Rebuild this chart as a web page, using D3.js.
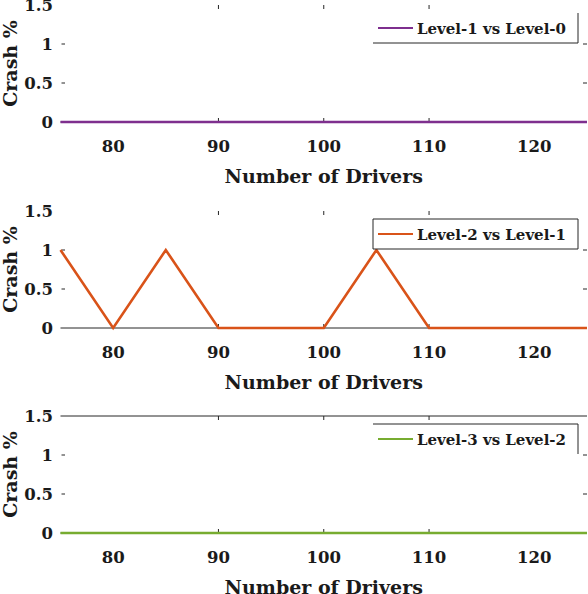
<!DOCTYPE html>
<html>
<head>
<meta charset="utf-8">
<script src="https://cdn.jsdelivr.net/npm/d3@7"></script>
<style>
  html, body { margin: 0; padding: 0; background: #fff; }
  svg { display: block; }
  text { font-family: 'DejaVu Serif', serif; font-weight: bold; fill: #1a1a1a; }
</style>
</head>
<body>
<div id="chart"></div>
<script>
// data
const drivers = [75, 80, 85, 90, 95, 100, 105, 110, 115, 120, 125]
const crashL1 = [0, 0, 0, 0, 0, 0, 0, 0, 0, 0, 0]
const crashL2 = [1, 0, 1, 0, 0, 0, 1, 0, 0, 0, 0]
const crashL3 = [0, 0, 0, 0, 0, 0, 0, 0, 0, 0, 0]
const seriesNames = ['Level-1 vs Level-0', 'Level-2 vs Level-1', 'Level-3 vs Level-2']
const seriesColors = ['#7E2F8E', '#D95319', '#77AC30']
const xTicks = [80, 90, 100, 110, 120]
const yTicks = [0, 0.5, 1, 1.5]
const xDomain = [75, 125]
const yDomain = [0, 1.5]

const width = 588,
  height = 594
const left = 60.5,
  right = 587,
  plotH = 117
const tops = [5, 211, 416]
// which frame pieces the original export left visible
const frames = [
  { topLine: false, legend: ['bottom', 'right'] },
  { topLine: false, legend: ['top', 'bottom', 'left', 'right'] },
  { topLine: true, legend: ['top', 'right'] }
]
const allSeries = [crashL1, crashL2, crashL3]

const svg = d3
  .select('#chart')
  .append('svg')
  .attr('width', width)
  .attr('height', height)

const x = d3.scaleLinear().domain(xDomain).range([left, right])

allSeries.forEach(function (values, i) {
  const top = tops[i]
  const y = d3.scaleLinear().domain(yDomain).range([top + plotH, top])
  const g = svg.append('g')
  const frame = frames[i]

  // bottom axis line (and top one where it shows)
  g.append('line')
    .attr('x1', left)
    .attr('x2', right)
    .attr('y1', y(0))
    .attr('y2', y(0))
    .attr('stroke', '#262626')
    .attr('stroke-width', 1)
  if (frame.topLine) {
    g.append('line')
      .attr('x1', left)
      .attr('x2', right)
      .attr('y1', y(1.5))
      .attr('y2', y(1.5))
      .attr('stroke', '#262626')
      .attr('stroke-width', 1)
  }

  // inward tick marks (only the inner ones survived in the original)
  const xMarks = xTicks.filter((d) => d > 85 && d < 115)
  const yMarks = yTicks.filter((d) => d > 0 && d < 1.5)
  g.selectAll('.tb')
    .data(xMarks)
    .join('line')
    .attr('x1', (d) => x(d))
    .attr('x2', (d) => x(d))
    .attr('y1', y(0))
    .attr('y2', y(0) - 4)
    .attr('stroke', '#262626')
  g.selectAll('.tt')
    .data(xMarks)
    .join('line')
    .attr('x1', (d) => x(d))
    .attr('x2', (d) => x(d))
    .attr('y1', y(1.5))
    .attr('y2', y(1.5) + 4)
    .attr('stroke', '#262626')
  g.selectAll('.tl')
    .data(yMarks)
    .join('line')
    .attr('x1', left + 1)
    .attr('x2', left + 4.5)
    .attr('y1', (d) => y(d))
    .attr('y2', (d) => y(d))
    .attr('stroke', '#262626')
  g.selectAll('.tr')
    .data(yMarks)
    .join('line')
    .attr('x1', right)
    .attr('x2', right - 4)
    .attr('y1', (d) => y(d))
    .attr('y2', (d) => y(d))
    .attr('stroke', '#262626')

  g.selectAll('.xl')
    .data(xTicks)
    .join('text')
    .attr('x', (d) => x(d))
    .attr('y', y(0) + 30)
    .attr('text-anchor', 'middle')
    .attr('font-size', 16.5)
    .text((d) => d)
  g.selectAll('.yl')
    .data(yTicks)
    .join('text')
    .attr('x', 53)
    .attr('y', (d) => y(d) + 6)
    .attr('text-anchor', 'end')
    .attr('font-size', 16.5)
    .text((d) => d)

  g.append('text')
    .attr('x', x(100))
    .attr('y', y(0) + 61)
    .attr('text-anchor', 'middle')
    .attr('font-size', 19)
    .text('Number of Drivers')
  g.append('text')
    .attr('transform', `translate(17,${top + plotH / 2}) rotate(-90)`)
    .attr('text-anchor', 'middle')
    .attr('font-size', 19)
    .text('Crash %')

  // series line
  const line = d3
    .line()
    .x((d, j) => x(drivers[j]))
    .y((d) => y(d))
  g.append('path')
    .datum(values)
    .attr('d', line)
    .attr('fill', 'none')
    .attr('stroke', seriesColors[i])
    .attr('stroke-width', 2.6)
    .attr('stroke-linejoin', 'miter')

  // legend
  const lx0 = 373,
    lx1 = 578,
    ly0 = top + 8,
    ly1 = top + 38
  const edges = {
    top: [lx0, ly0, lx1, ly0],
    bottom: [lx0, ly1, lx1, ly1],
    left: [lx0, ly0, lx0, ly1],
    right: [lx1, ly0, lx1, ly1]
  }
  g.append('rect')
    .attr('x', lx0)
    .attr('y', ly0)
    .attr('width', lx1 - lx0)
    .attr('height', ly1 - ly0)
    .attr('fill', '#fff')
  frame.legend.forEach(function (k) {
    const e = edges[k]
    g.append('line')
      .attr('x1', e[0])
      .attr('y1', e[1])
      .attr('x2', e[2])
      .attr('y2', e[3])
      .attr('stroke', '#262626')
      .attr('stroke-width', 1)
  })
  const ly = (ly0 + ly1) / 2
  g.append('line')
    .attr('x1', 378)
    .attr('x2', 413)
    .attr('y1', ly)
    .attr('y2', ly)
    .attr('stroke', seriesColors[i])
    .attr('stroke-width', 2.2)
  g.append('text')
    .attr('x', 417)
    .attr('y', ly + 5.5)
    .attr('font-size', 15)
    .text(seriesNames[i])
})
</script>
</body>
</html>
